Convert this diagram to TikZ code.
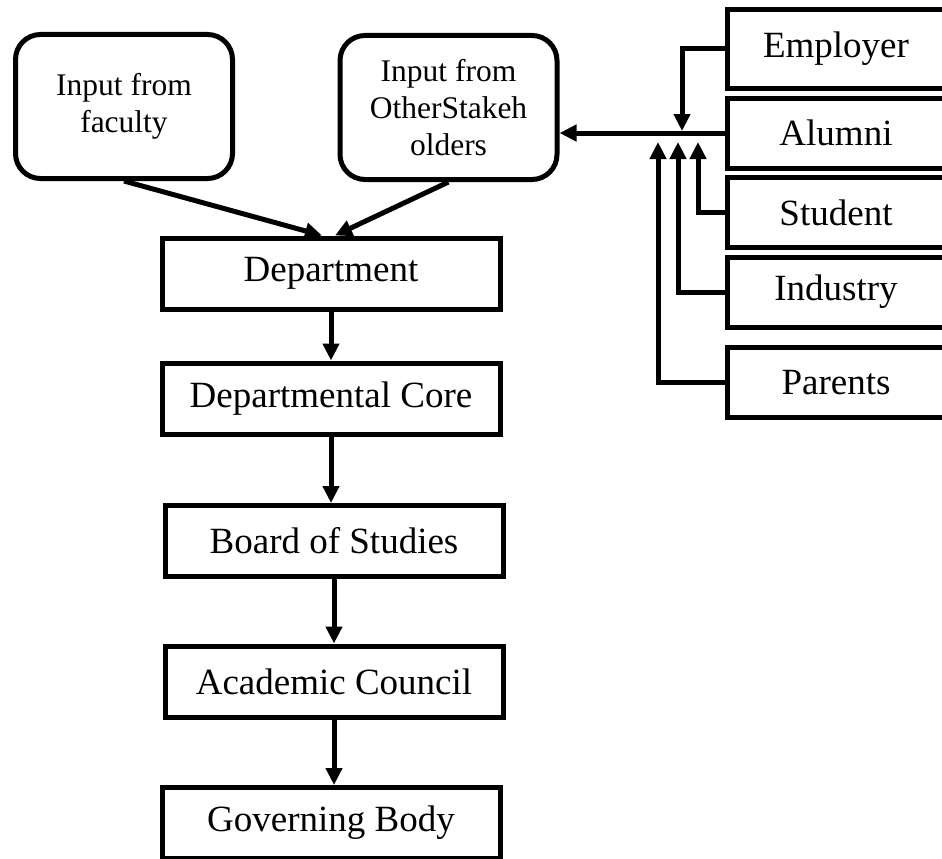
\documentclass[tikz,border=0pt]{standalone}
\usepackage{fontspec}
\setmainfont{Liberation Serif}
\usepackage{tikz}
\usetikzlibrary{arrows.meta}

\begin{document}
\begin{tikzpicture}[x=1pt,y=-1pt,
        box/.style={draw,line width=5pt,minimum width=338pt,minimum height=71pt,inner sep=0pt,
            font=\fontsize{37}{40}\selectfont},
        side/.style={box,minimum width=218pt,minimum height=70pt},
        inp/.style={draw,line width=5pt,rounded corners=25pt,minimum width=217pt,minimum height=144pt,
            inner sep=0pt,align=center,font=\fontsize{31.5}{37}\selectfont},
        arr/.style={line width=5pt,-{Triangle[length=17pt,width=16pt]}}]
        \useasboundingbox (0,0) rectangle (942,859);

        % the two inputs
        \node[inp] (fac) at (124,106.5) {Input from\\faculty};
        \node[inp] (oth) at (448.5,107.5) {Input from\\OtherStakeh\\olders};

        % approval chain
        \foreach \n/\t/\x/\y in {dep/Department/331/273.5, core/Departmental Core/331/398.5,
            bos/Board of Studies/334/541, ac/Academic Council/334/681.5, gb/Governing Body/331/823}
        {
            \node[box] (\n) at (\x,\y) {\t};
        }

        % stakeholders on the right
        \node[side,minimum height=78pt] (emp) at (836,49) {Employer};
        \foreach \n/\t/\y in {alu/Alumni/133, stu/Student/212.5, ind/Industry/292, par/Parents/382.5}
        {
            \node[side] (\n) at (836,\y) {\t};
        }

        \draw[arr] (fac.south) -- ([xshift=-9pt]dep.north);
        \draw[arr] (oth.south) -- ([xshift=4pt]dep.north);
        \foreach \a/\b in {dep/core, core/bos, bos/ac, ac/gb}
        {
            \draw[arr] (\a.south) -- (\a.south |- \b.north);
        }

        % feed lines into the stakeholder input
        \draw[arr] (alu.west) -- (alu.west -| oth.east);
        \coordinate (emp tip) at (682,131);
        \draw[arr] (emp.west) -| (emp tip);
        \foreach \n/\x in {stu/698, ind/678, par/658}
        {
            \coordinate (\n tip) at (\x,142);
            \draw[arr] (\n.west) -| (\n tip);
        }
    \end{tikzpicture}
\end{document}
